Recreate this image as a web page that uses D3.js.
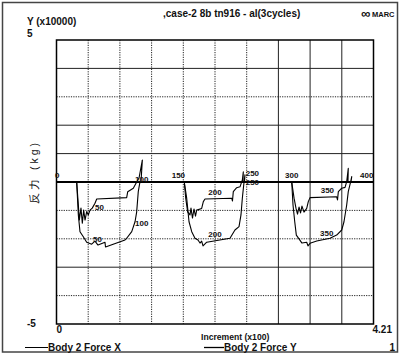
<!DOCTYPE html>
<html><head><meta charset="utf-8">
<script src="https://cdn.jsdelivr.net/npm/d3@7/dist/d3.min.js"></script>
<style>
body{margin:0;background:#fff}
svg{display:block}
text{font-family:"Liberation Sans",Arial,sans-serif;fill:#111}
</style>
</head><body>
<svg id="c" width="400" height="355"></svg>
<script>
// ---- data ----
const xDomain = [0, 4.21];           // Increment (x100)
const yDomain = [-5, 5];             // Y (x10000)
const xTickLabels = ["0", "4.21"];
const yTickLabels = ["5", "-5"];
const seriesNames = ["Body 2 Force X", "Body 2 Force Y"];

const forceX_x = [0,0.268,0.29,0.303,0.325,0.343,0.361,0.379,0.401,0.422,0.445,0.475,0.511,0.534,0.932,0.946,1.02,1.065,1.096,1.14,1.122,
  1.697,1.716,1.742,1.773,1.786,1.806,1.826,1.846,1.862,1.928,1.95,1.972,2.327,2.337,2.348,2.393,2.437,2.468,2.481,2.477,
  3.124,3.155,3.181,3.201,3.221,3.241,3.26,3.287,3.323,3.344,3.367,3.721,3.732,3.743,3.788,3.832,3.854,3.875,3.871,4.21];
const forceX_y = [0,0,-0.81,-1.34,-0.92,-1.45,-0.99,-1.34,-1.04,-1.16,-0.99,-0.92,-0.75,-0.6,-0.55,-0.34,-0.22,0,0.14,0.77,0,
  0,-0.57,-1.05,-1.16,-0.92,-1.27,-0.95,-1.2,-0.99,-0.93,-0.69,-0.6,-0.57,-0.67,-0.34,-0.2,-0.17,0.07,0.36,0,
  0,-0.57,-0.93,-1.13,-0.88,-1.09,-0.85,-1.06,-0.93,-0.69,-0.55,-0.52,-0.63,-0.34,-0.22,-0.19,0.01,0.48,0,0];

const forceY_x = [0,0.268,0.29,0.312,0.356,0.401,0.467,0.511,0.551,0.644,0.651,0.910,0.932,0.999,1.043,1.065,1.086,1.109,1.122,
  1.697,1.729,1.760,1.796,1.839,1.879,1.906,1.928,1.946,1.995,2.304,2.370,2.424,2.450,2.468,2.486,2.503,2.497,
  3.124,3.141,3.164,3.185,3.230,3.260,3.323,3.340,3.367,3.456,3.632,3.721,3.788,3.818,3.854,3.875,3.907,3.921,3.911,4.21];
const forceY_y = [0,0,-1.16,-1.75,-1.93,-2.12,-2.19,-2.08,-2.22,-2.12,-2.29,-2.04,-1.98,-1.75,-1.40,-1.05,-0.34,0.01,0,
  0,-0.57,-1.40,-1.75,-1.98,-2.04,-2.15,-2.08,-2.25,-2.12,-1.98,-1.69,-1.57,-1.16,-0.57,-0.11,0.25,0,
  0,-0.81,-1.40,-1.87,-2.04,-2.15,-2.12,-2.25,-2.16,-2.08,-1.98,-1.87,-1.69,-1.40,-0.81,-0.34,0.01,0.19,0,0];

// increment annotations along the curves
const incLabels = ["0","50","50","100","100","150","200","200","250","250","300","350","350","400"];
const incLabelX = [-0.02,0.511,0.485,1.043,1.043,1.530,2.016,2.016,2.513,2.513,3.035,3.509,3.500,4.031];
const incLabelY = [0.14,-0.99,-2.11,-1.55,0,0.14,-0.46,-1.94,0.2,-0.12,0.14,-0.39,-1.90,0.14];

// ---- drawing ----
const svg = d3.select("#c");
const L = 56.5, R = 373.5, T = 40, B = 324;
const x = d3.scaleLinear().domain(xDomain).range([L, R]);
const y = d3.scaleLinear().domain(yDomain).range([B, T]);

svg.append("rect").attr("width",400).attr("height",355).attr("fill","#fff");
// outer frame
svg.append("rect").attr("x",2.5).attr("y",2.5).attr("width",395).attr("height",349.5)
  .attr("fill","none").attr("stroke","#444").attr("stroke-width",1.5);

// grid
const g = svg.append("g");
const vSolid = new Set([7,8,9]);
d3.range(1,10).forEach(i=>{
  const v = xDomain[1]*i/10;
  g.append("line").attr("x1",x(v)).attr("x2",x(v)).attr("y1",T).attr("y2",B)
   .attr("stroke","#222").attr("stroke-width",1)
   .attr("stroke-dasharray",vSolid.has(i)?null:"1.2,1.2");
});
const hSolid = new Set([4,2,1,-3]);
[4,3,2,1,-1,-2,-3,-4].forEach(v=>{
  g.append("line").attr("x1",L).attr("x2",R).attr("y1",y(v)).attr("y2",y(v))
   .attr("stroke","#222").attr("stroke-width",1)
   .attr("stroke-dasharray",hSolid.has(v)?null:"1.2,1.2");
});
g.append("line").attr("x1",L).attr("x2",R).attr("y1",y(0)).attr("y2",y(0))
  .attr("stroke","#000").attr("stroke-width",1.8);
svg.append("rect").attr("x",L).attr("y",T).attr("width",R-L).attr("height",B-T)
  .attr("fill","none").attr("stroke","#000").attr("stroke-width",1.5);

// series
const line = d3.line().x(d=>x(d[0])).y(d=>y(d[1]));
const sX = forceX_x.map((v,i)=>[v, forceX_y[i]]);
const sY = forceY_x.map((v,i)=>[v, forceY_y[i]]);
[sX, sY].forEach(s=>{
  svg.append("path").datum(s).attr("d",line).attr("fill","none")
    .attr("stroke","#000").attr("stroke-width",1.1).attr("stroke-linejoin","round");
});

// increment annotations
incLabels.forEach((t,i)=>{
  svg.append("text").attr("x",x(incLabelX[i])).attr("y",y(incLabelY[i]))
    .attr("font-size",8).attr("font-weight","bold").text(t);
});

// axis texts
const bold = sel => sel.attr("font-weight","bold").attr("font-size",10);
svg.append("text").attr("x",27).attr("y",25).call(bold).text("Y (x10000)");
svg.append("text").attr("x",27).attr("y",y(yDomain[1])-3).call(bold).text(yTickLabels[0]);
svg.append("text").attr("x",27).attr("y",y(yDomain[0])+3).call(bold).text(yTickLabels[1]);
svg.append("text").attr("x",x(xDomain[0])).attr("y",B+8.5).call(bold).text(xTickLabels[0]);
svg.append("text").attr("x",392).attr("y",B+8.5).attr("text-anchor","end").call(bold).text(xTickLabels[1]);
svg.append("text").attr("x",201).attr("y",340).attr("font-weight","bold").attr("font-size",8.6).text("Increment (x100)");
svg.append("text").attr("x",163).attr("y",17).call(bold).text(",case-2 8b tn916 - al(3cycles)");
// MARC logo
svg.append("text").attr("x",361).attr("y",17.5).attr("font-weight","bold").attr("font-size",13).text("\u221E");
svg.append("text").attr("x",372).attr("y",16.5).attr("font-weight","bold").attr("font-size",7.5).text("MARC");

// y label
svg.append("text").attr("transform","translate(38,172) rotate(-90)")
  .attr("text-anchor","middle").attr("font-family","'Noto Sans CJK JP',sans-serif")
  .attr("font-size",10.5).attr("letter-spacing",3).text("反力 (kg)");

// legend
svg.append("line").attr("x1",25).attr("x2",48).attr("y1",347.5).attr("y2",347.5).attr("stroke","#000").attr("stroke-width",1);
svg.append("text").attr("x",48).attr("y",350.5).call(bold).text(seriesNames[0]);
svg.append("line").attr("x1",204).attr("x2",224).attr("y1",347.5).attr("y2",347.5).attr("stroke","#000").attr("stroke-width",1.3);
svg.append("text").attr("x",224).attr("y",350.5).call(bold).text(seriesNames[1]);
svg.append("text").attr("x",395).attr("y",350.5).attr("text-anchor","end").call(bold).text("1");
</script>
</body></html>
